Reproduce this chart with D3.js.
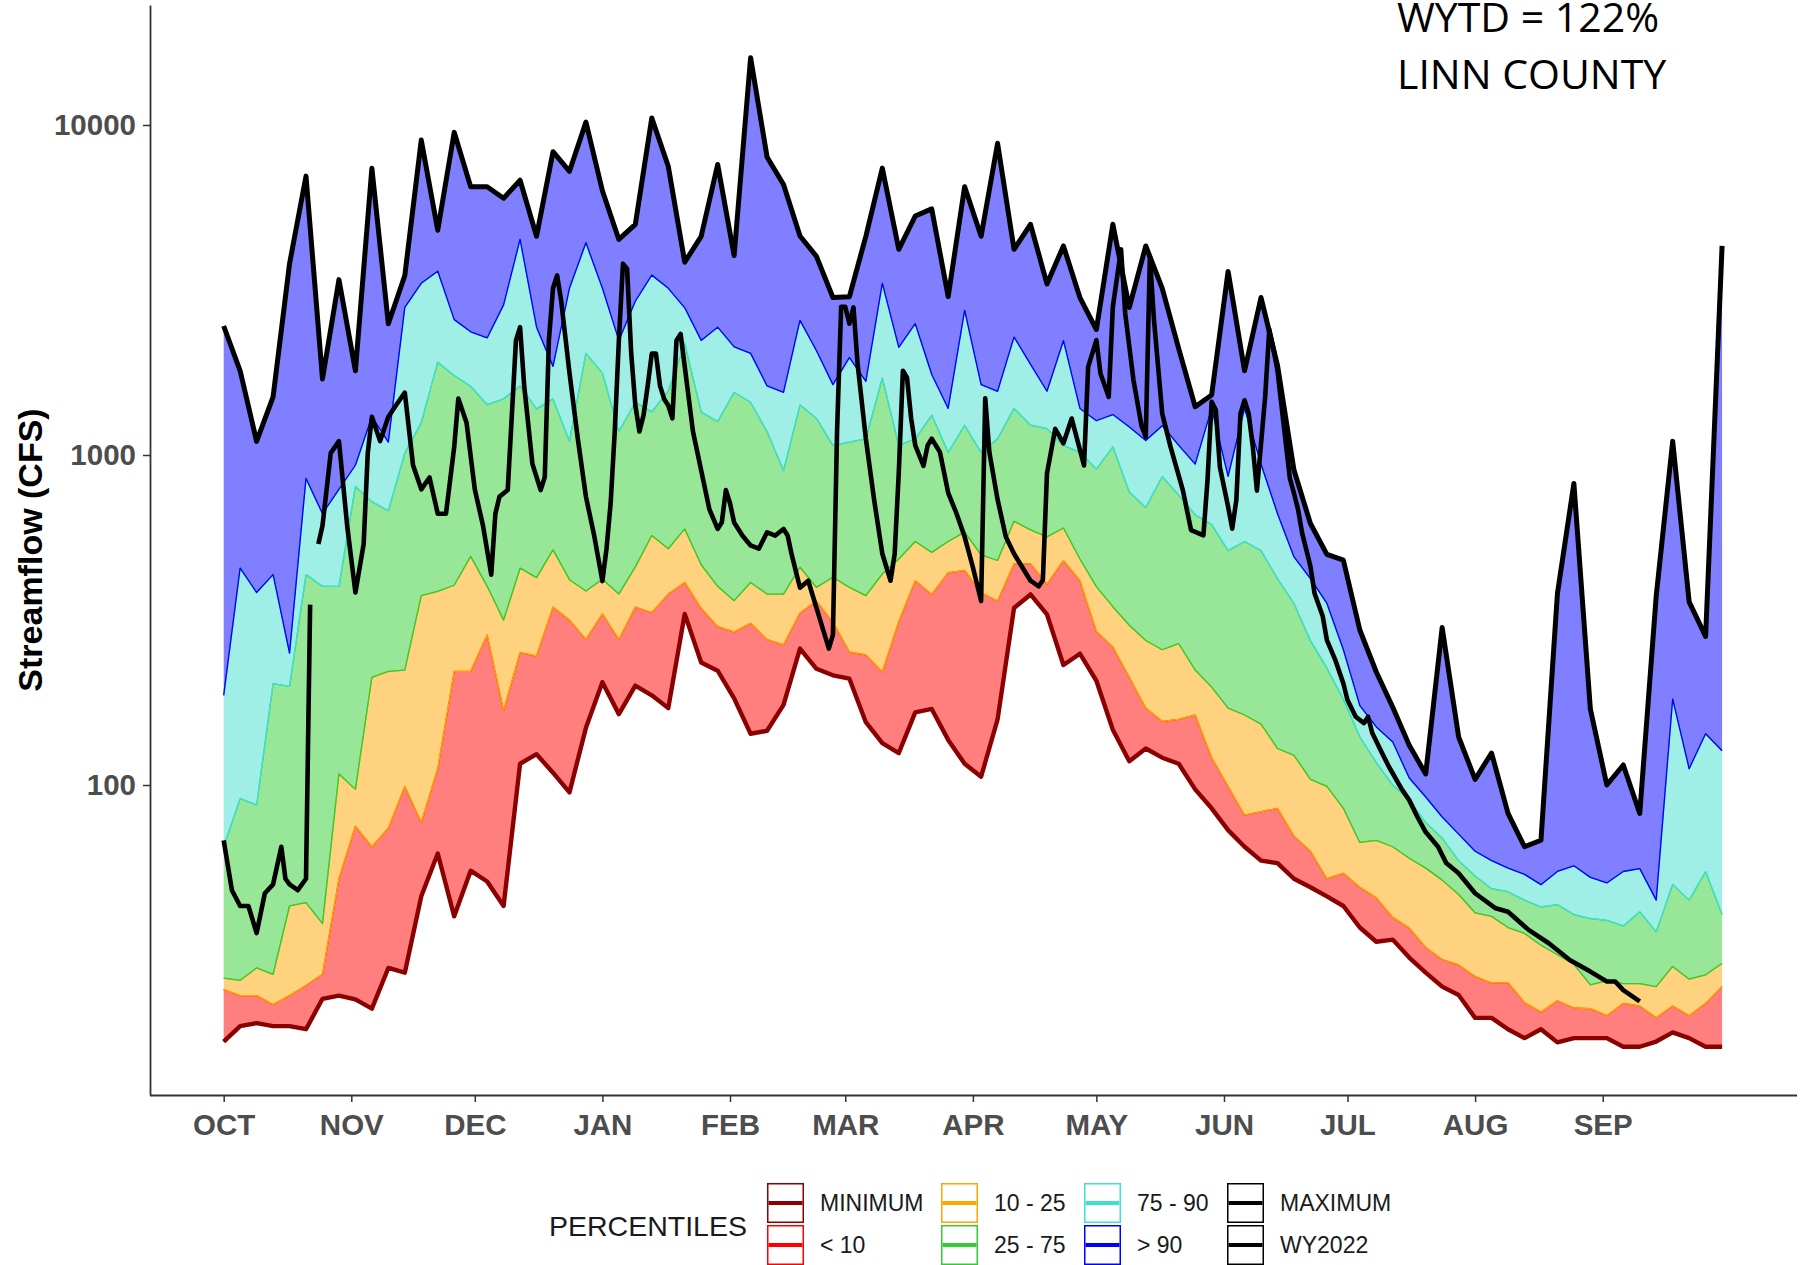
<!DOCTYPE html>
<html><head><meta charset="utf-8">
<script src="https://cdn.jsdelivr.net/npm/d3@7"></script>
<style>body{margin:0;background:#fff}svg{display:block}</style>
</head><body>
<svg id="chart" width="1805" height="1265"></svg>
<script>
// ---- data (CFS) : day offsets from 1 Oct ----
const days = [0,4,8,12,16,20,24,28,32,36,40,44,48,52,56,60,64,68,72,76,80,84,88,92,96,100,104,108,112,116,120,124,128,132,136,140,144,148,152,156,160,164,168,172,176,180,184,188,192,196,200,204,208,212,216,220,224,228,232,236,240,244,248,252,256,260,264,268,272,276,280,284,288,292,296,300,304,308,312,316,320,324,328,332,336,340,344,348,352,356,360,364];
const minimum = [16.7,18.6,19,18.6,18.6,18.2,22.5,23,22.4,21,27.9,27,46,62,40,55,51,43,116,124,109,95,149,205,164,200,187,171,330,235,222,183,143,146,175,259,225,215,210,155,134,125,166,170,137,116,106,158,344,378,329,231,250,207,147,118,129,121,116,97,85,73,65,59,58,52,49,46,43,37,33.5,34,30,27,24.5,23.1,19.7,19.7,18.2,17.1,18.2,16.6,17.1,17.1,17.1,16.1,16.1,16.7,17.8,17.1,16.1,16.1];
const p10 = [24,23,23,21.6,23,24.7,26.7,52,75,65,74,99,77,112,221,221,285,168,252,246,346,316,276,330,276,346,333,379,411,343,302,291,309,276,266,332,361,311,253,248,220,313,416,378,440,447,382,361,468,468,406,479,416,292,262,212,171,156,158,163,121,99,81,83,85,70,63,52,54,49,45.5,39.7,36.9,32.2,29.6,28.5,26.3,25.1,25.2,21.9,20.5,22.2,21.1,21,20,21.8,21.4,19.7,21.4,20,21.8,24.5];
const p25 = [26,25.6,27.9,26.7,43,44,38,108,97,212,221,223,375,386,403,493,400,316,454,425,516,419,387,420,379,458,570,520,597,465,400,362,411,379,379,457,397,426,397,375,436,484,547,507,547,584,498,479,630,593,565,601,484,399,347,305,274,257,268,223,198,171,163,153,129,123,104,99,85,67,68,65,60,56,51.5,46.6,41,40,37,35.5,32.7,30.6,28.6,24.8,25.5,25,25,24.5,28.2,25.8,26.6,28.8];
const p75 = [65,91,87,203,199,434,400,400,803,722,678,1013,1253,1911,1742,1614,1422,1480,1619,1380,1479,1101,2032,1774,1178,1445,1351,1563,2178,1351,1262,1549,1445,1178,897,1419,1291,1069,1094,1120,1713,1069,1120,1321,1019,1231,1019,1120,1384,1231,1202,1069,1019,906,1059,773,693,861,756,659,615,513,547,513,422,355,274,226,182,140,117,100,90,77,69,59,53,48.5,47.5,44.8,42.7,43.4,40.5,39.4,38.9,37.4,41.3,35.9,50,44.8,54.7,40.5];
const p90 = [187,454,383,434,251,849,664,787,931,1306,1094,2800,3313,3606,2572,2362,2263,2850,4500,2440,1856,3200,4395,3200,2225,2924,3508,3200,2793,2225,2440,2127,2032,1619,1549,2559,2070,1634,1972,1672,3311,2118,2500,1754,1384,2742,1634,1560,2277,1883,1560,2220,1384,1270,1326,1216,1106,1227,1070,938,1384,861,1384,938,664,491,422,355,257,174,150,135,105,92,80,71,63,59,56,53.6,49.9,54.7,56.9,52.5,50.5,54.7,55.8,44.8,182,112,143,127];
const maximum = [2460,1800,1100,1500,3800,7000,1700,3400,1800,7400,2500,3500,9000,4800,9500,6500,6500,6000,6800,4600,8300,7240,10200,6320,4500,5000,10500,7500,3840,4600,7590,4020,16000,8000,6600,4610,4000,3000,3017,4600,7400,4200,5300,5570,3020,6500,4600,8800,4200,5000,3300,4300,3000,2400,5000,2800,4300,3200,2100,1400,1520,3600,1800,3000,1870,900,620,500,480,295,220,172,132,108,300,140,104,125,82,65,68,380,820,170,100,115,82,374,1101,359,282,4300];

const wyDays = [0,2,4,6,8,10,12,13,14,15,16,18,20,21,22,23,24,26,28,30,32,34,35,36,38,40,42,44,46,48,50,52,54,56,57,59,61,63,65,66,67,69,71,72,73,75,77,78,79,80,81,82,84,86,88,90,92,93,94,95,96,97,98,99,100,101,102,103,104,105,106,107,108,109,110,111,112,114,116,118,120,121,122,123,124,126,128,130,132,134,136,137,138,140,142,144,146,147,148,149,150,151,152,153,154,156,158,160,162,163,164,165,166,167,168,170,171,172,174,176,178,180,182,184,185,186,188,190,192,194,196,198,199,200,202,204,206,209,210,212,213,215,216,218,219,221,223,224,225,226,228,230,233,235,238,239,240,241,242,244,245,246,247,248,249,250,251,253,254,255,256,257,259,260,261,262,264,265,267,268,270,272,273,275,277,278,279,281,283,286,288,290,292,295,297,300,304,309,312,317,322,327,332,336,338,340,344];
const wy2022 = [68,48,43,43,35.6,47,50,57,65,52,50,48,52,352,null,537,610,1013,1102,610,383,537,1013,1306,1102,1306,1422,1546,931,787,855,664,664,1057,1483,1253,787,610,434,664,748,783,2225,2440,1620,940,783,857,2225,3200,3500,2925,1775,1127,748,570,415,520,714,1178,2225,3800,3665,2030,1413,1178,1321,1620,2030,2030,1620,1479,1413,1291,2225,2328,1855,1178,897,684,597,624,783,714,624,570,532,520,583,570,597,570,498,396,416,344,285,259,285,1175,2812,2812,2500,2800,1883,1120,733,502,416,502,885,1800,1714,1292,1069,927,1069,1120,1020,768,666,565,457,361,1486,1020,733,565,502,457,416,400,418,880,1200,1085,1290,930,1850,2230,1765,1500,2810,4200,2690,1690,1220,1135,4000,2560,1335,1060,783,592,571,840,1450,1370,920,697,598,730,1335,1465,1335,1060,780,1500,2400,2100,1800,1400,850,766,683,579,460,381,324,275,240,203,181,161,154,161,144,128,114,98,90,80,72,65,58,54,47,42.3,41.3,36.4,33.1,29.5,27.2,25.4,25.4,23.9,22.1];

const yTicks = [100, 1000, 10000];
const monthLabels = ["OCT","NOV","DEC","JAN","FEB","MAR","APR","MAY","JUN","JUL","AUG","SEP"];
const legendItems = [
  {label:"MINIMUM", color:"#8B0000"}, {label:"< 10", color:"#FF0000"},
  {label:"10 - 25", color:"#FFA500"}, {label:"25 - 75", color:"#32CD32"},
  {label:"75 - 90", color:"#40E0D0"}, {label:"> 90", color:"#0000FF"},
  {label:"MAXIMUM", color:"#000000"}, {label:"WY2022", color:"#000000"}];

// ---- layout ----
const svg = d3.select("#chart");
const FONT = "'Liberation Sans', Arial, sans-serif";
const panel = {x0:150, x1:1797, y0:5, y1:1095};
const DAY = 86400000;
const start = Date.UTC(2021, 9, 1);
const toDate = d => new Date(start + d * DAY);
const x = d3.scaleUtc().domain([toDate(-17.9), toDate(382.2)]).range([panel.x0, panel.x1]);
const y = d3.scaleLog().domain([11.5, 23100]).range([panel.y1, panel.y0]);

svg.append("defs").append("clipPath").attr("id","clip")
  .append("rect").attr("x",panel.x0).attr("y",panel.y0)
  .attr("width",panel.x1-panel.x0).attr("height",panel.y1-panel.y0);
const g = svg.append("g").attr("clip-path","url(#clip)");

const rows = days.map((d,i)=>({d, mn:minimum[i], a:p10[i], b:p25[i], c:p75[i], e:p90[i], mx:maximum[i]}));
const bands = [
  {lo:"mn", hi:"a", color:"#FF0000"},
  {lo:"a", hi:"b", color:"#FFA500"},
  {lo:"b", hi:"c", color:"#32CD32"},
  {lo:"c", hi:"e", color:"#40E0D0"},
  {lo:"e", hi:"mx", color:"#0000FF"}];

bands.forEach(b=>{
  const area = d3.area().x(r=>x(toDate(r.d))).y0(r=>y(r[b.lo])).y1(r=>y(r[b.hi]));
  g.append("path").datum(rows).attr("d",area).attr("fill",b.color).attr("fill-opacity",0.5);
  [b.lo,b.hi].forEach(k=>{
    const ln = d3.line().x(r=>x(toDate(r.d))).y(r=>y(r[k]));
    g.append("path").datum(rows).attr("d",ln).attr("fill","none")
      .attr("stroke",b.color).attr("stroke-width",1.3).attr("stroke-linejoin","round");
  });
});

const lineOf = k => d3.line().x(r=>x(toDate(r.d))).y(r=>y(r[k]));
g.append("path").datum(rows).attr("d",lineOf("mn")).attr("fill","none")
  .attr("stroke","#8B0000").attr("stroke-width",4.4).attr("stroke-linejoin","round");
g.append("path").datum(rows).attr("d",lineOf("mx")).attr("fill","none")
  .attr("stroke","#000").attr("stroke-width",5).attr("stroke-linejoin","round");

const wyRows = wyDays.map((d,i)=>({d, v:wy2022[i]}));
const wyLine = d3.line().defined(r=>r.v!=null).x(r=>x(toDate(r.d))).y(r=>y(r.v));
g.append("path").datum(wyRows).attr("d",wyLine).attr("fill","none")
  .attr("stroke","#000").attr("stroke-width",4.6).attr("stroke-linejoin","round");

// ---- axes ----
const monthDates = d3.utcMonth.range(toDate(0), toDate(365));
const xAxis = svg.append("g").attr("transform",`translate(0,${panel.y1})`)
  .call(d3.axisBottom(x).tickValues(monthDates).tickFormat((d,i)=>monthLabels[i])
    .tickSize(7).tickSizeOuter(0).tickPadding(12));
const yAxis = svg.append("g").attr("transform",`translate(${panel.x0},0)`)
  .call(d3.axisLeft(y).tickValues(yTicks).tickFormat(d3.format("d"))
    .tickSize(7).tickSizeOuter(0).tickPadding(7));
[xAxis,yAxis].forEach(a=>{
  a.select(".domain").attr("stroke","#333").attr("stroke-width",1.8);
  a.selectAll(".tick line").attr("stroke","#333").attr("stroke-width",1.5);
  a.selectAll(".tick text").attr("fill","#4D4D4D").style("font-family",FONT)
    .style("font-weight","bold").style("font-size","29.5px");
});
xAxis.select(".domain").attr("d",`M${panel.x0},0.5H${panel.x1}`);

svg.append("text").attr("transform",`translate(30,${(panel.y0+panel.y1)/2}) rotate(-90)`)
  .attr("text-anchor","middle").attr("dominant-baseline","central")
  .style("font-family",FONT).style("font-weight","bold").style("font-size","34px")
  .attr("fill","#000").text("Streamflow (CFS)");

// ---- annotations ----
svg.append("text").attr("x",1397).attr("y",32).style("font-family","'Open Sans', sans-serif")
  .style("font-size","41px").attr("fill","#000").text("WYTD = 122%");
svg.append("text").attr("x",1397).attr("y",89).style("font-family","'Open Sans', sans-serif")
  .style("font-size","41px").attr("fill","#000").text("LINN COUNTY");

// ---- legend ----
const lg = svg.append("g");
lg.append("text").attr("x",549).attr("y",1226).attr("dominant-baseline","central")
  .style("font-family",FONT).style("font-size","28.5px").attr("fill","#1A1A1A").text("PERCENTILES");
const colX = [767, 941, 1084, 1227];
const rowY = [1183, 1225];
const kw = 37, kh = 40;
legendItems.forEach((it,idx)=>{
  const cx = colX[Math.floor(idx/2)], cy = rowY[idx%2];
  lg.append("rect").attr("x",cx+0.75).attr("y",cy+0.75).attr("width",kw-1.5).attr("height",kh-1.5)
    .attr("fill","#fff").attr("stroke",it.color).attr("stroke-width",1.5);
  lg.append("line").attr("x1",cx+1.5).attr("x2",cx+kw-1.5).attr("y1",cy+kh/2).attr("y2",cy+kh/2)
    .attr("stroke",it.color).attr("stroke-width",4);
  lg.append("text").attr("x",cx+kw+16).attr("y",cy+kh/2).attr("dominant-baseline","central")
    .style("font-family",FONT).style("font-size","23px").attr("fill","#1A1A1A").text(it.label);
});
</script>
</body></html>
